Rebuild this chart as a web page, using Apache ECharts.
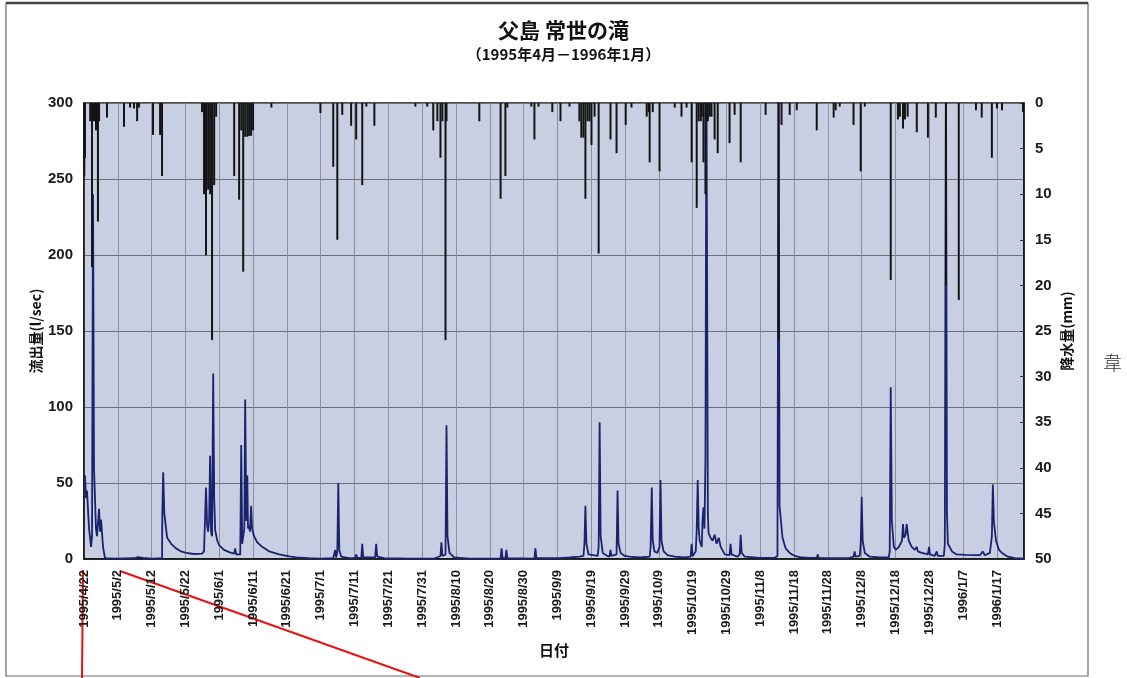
<!DOCTYPE html>
<html>
<head>
<meta charset="utf-8">
<script src="https://cdn.jsdelivr.net/npm/echarts@6/dist/echarts.min.js"></script>
<style>
  html, body { margin: 0; padding: 0; background: #fff; }
  #chart { width: 1127px; height: 678px; }
</style>
</head>
<body>
<div id="chart"></div>
<script>
// 父島 常世の滝 : runoff (l/sec) and rainfall (mm), 1995/4 - 1996/1
// Times are written 'M/D H' ; months 4-12 are 1995, months 1-3 are 1996.
const startDate = '1995/4/22';
const dayCount = 278;          // axis span in days from startDate
const tickDays = 10;           // date label every 10 days

const flowTitle = '流出量(l/sec)';
const rainTitle = '降水量(mm)';
const dateTitle = '日付';
const chartTitle = '父島 常世の滝';
const chartSubtitle = '（1995年4月－1996年1月）';

// runoff, l/sec
const flowPoints = [
  ['4/22 0',50],['4/22 7',55],['4/22 14',40],['4/22 21',45],['4/23 12',20],['4/24 2',8],['4/24 9',15],['4/24 16',240],['4/24 23',60],
  ['4/25 13',20],['4/25 20',15],['4/26 11',33],['4/26 18',18],['4/27 1',26],['4/27 15',8],['4/28 5',0.5],['5/1 0',0.3],['5/7 0',0.5],
  ['5/8 0',1.2],['5/9 12',0.8],['5/12 0',0.3],['5/15 2',0.5],['5/15 4',30],['5/15 10',57],['5/15 18',30],['5/16 14',14],['5/17 19',10],
  ['5/19 5',7],['5/20 17',5],['5/22 5',4],['5/24 14',3.3],['5/26 22',3.5],['5/27 12',5],['5/28 2',47],['5/28 10',22],['5/28 17',18],
  ['5/29 0',25],['5/29 7',68],['5/29 14',18],['5/29 21',15],['5/30 5',122],['5/30 12',40],['5/30 19',19],['5/31 10',12],['6/1 0',9],
  ['6/2 10',6],['6/3 22',4.5],['6/5 10',3.5],['6/5 17',7],['6/6 0',3],['6/7 5',3],['6/7 12',75],['6/7 19',10],['6/8 10',20],['6/8 16',105],
  ['6/9 0',25],['6/9 7',55],['6/9 12',20],['6/9 20',22],['6/10 2',18],['6/10 10',35],['6/10 17',20],['6/11 7',15],['6/12 5',11],['6/13 17',8],
  ['6/15 19',5],['6/18 17',3],['6/21 17',1.8],['6/23 19',1],['6/27 14',0.6],['7/1 5',0.3],['7/4 17',0.5],['7/5 7',6],['7/5 14',1],['7/5 22',5],
  ['7/6 5',50],['7/6 12',6],['7/7 2',1.5],['7/9 10',0.5],['7/11 5',0.8],['7/11 12',3],['7/11 19',0.8],['7/13 0',0.8],['7/13 7',10],['7/13 14',1],
  ['7/17 2',1],['7/17 10',10],['7/17 17',1.5],['7/19 19',0.5],['7/27 5',0.2],['8/3 14',0.3],['8/5 10',2],['8/5 17',11],['8/6 0',2],['8/6 22',3],
  ['8/7 5',88],['8/7 12',15],['8/8 2',4],['8/9 12',1],['8/14 0',0.3],['8/23 5',0.3],['8/23 12',7],['8/23 19',0.5],['8/24 15',0.5],['8/24 22',6],
  ['8/25 5',0.5],['9/2 5',0.3],['9/2 12',7],['9/2 19',0.5],['9/9 14',0.5],['9/12 14',1],['9/15 12',1.5],['9/16 17',2],['9/17 0',10],['9/17 7',35],
  ['9/17 14',10],['9/18 5',3],['9/20 22',2],['9/21 5',8],['9/21 12',90],['9/21 19',15],['9/22 10',4],['9/23 19',2],['9/24 10',1.5],['9/24 17',6],
  ['9/25 0',2],['9/26 12',3],['9/26 19',45],['9/27 2',10],['9/27 17',4],['9/28 22',2],['9/30 7',1.5],['10/3 7',1],['10/6 7',1.5],['10/6 14',8],
  ['10/6 22',47],['10/7 5',12],['10/7 17',5],['10/8 14',4],['10/9 5',8],['10/9 12',52],['10/9 19',12],['10/10 10',5],['10/11 14',2.5],['10/13 17',1.5],
  ['10/16 14',1],['10/18 10',1.5],['10/18 17',10],['10/19 0',2],['10/19 22',5],['10/20 5',19],['10/20 12',52],['10/20 19',20],['10/21 2',12],
  ['10/21 17',8],['10/21 22',25],['10/22 5',34],['10/22 12',20],['10/22 19',66],['10/23 2',320],['10/23 12',30],['10/23 17',17],['10/24 7',14],
  ['10/24 22',12],['10/25 12',16],['10/26 2',10],['10/26 17',14],['10/27 7',8],['10/28 12',3],['10/29 22',2.5],['10/30 5',10],['10/30 12',3],
  ['11/1 7',1.5],['11/1 22',3],['11/2 5',16],['11/2 12',4],['11/3 10',1.5],['11/7 19',0.8],['11/12 7',0.8],['11/13 2',2],['11/13 10',330],
  ['11/13 17',35],['11/14 14',14],['11/15 12',7],['11/16 17',4],['11/18 5',2],['11/19 17',1.2],['11/22 14',0.8],['11/24 17',0.8],['11/25 0',3],
  ['11/25 7',0.8],['11/28 12',0.5],['12/4 12',0.8],['12/5 14',1.5],['12/5 22',5],['12/6 5',1.5],['12/7 10',2],['12/7 17',10],['12/8 0',41],
  ['12/8 7',12],['12/8 22',4],['12/10 10',1.5],['12/13 7',1],['12/16 0',1],['12/16 7',5],['12/16 14',113],['12/16 22',25],['12/17 12',8],
  ['12/18 2',6],['12/19 0',8],['12/19 22',12],['12/20 5',23],['12/20 12',14],['12/21 0',16],['12/21 7',23],['12/21 22',12],['12/22 19',8],
  ['12/23 17',6],['12/24 7',8],['12/24 14',5],['12/25 19',4],['12/27 14',3],['12/27 22',8],['12/28 5',3],['12/29 14',2],['12/30 5',5],
  ['12/30 12',2],['1/1 7',2],['1/1 14',10],['1/1 22',330],['1/2 5',30],['1/2 12',10],['1/3 17',5],['1/5 2',3],['1/7 19',2.7],['1/10 12',2.5],
  ['1/12 0',2.5],['1/12 19',5],['1/13 10',2.5],['1/14 22',4],['1/15 12',15],['1/15 19',49],['1/16 2',25],['1/16 17',12],['1/17 14',6],
  ['1/18 12',4],['1/20 5',1.5],['1/22 7',0.5],['1/25 0',0.3]
];

// rainfall, mm
const rainPoints = [
  ['4/22 2',8],['4/22 7',6],['4/23 20',2],['4/24 9',18],['4/24 23',2],['4/25 13',3],['4/26 3',13],['4/26 11',2],['4/28 19',1.6],['5/3 20',2.6],
  ['5/5 15',0.5],['5/6 19',0.6],['5/7 17',2],['5/8 7',0.5],['5/12 10',3.5],['5/14 12',3.5],['5/15 2',8],['5/26 22',1],['5/27 12',10],['5/28 2',16.7],
  ['5/28 17',9.5],['5/29 7',10],['5/29 21',26],['5/30 12',9],['5/31 2',1.5],['6/5 10',8],['6/6 21',10.6],['6/7 12',3],['6/8 2',18.5],['6/8 16',3.7],
  ['6/9 7',3.7],['6/9 20',3.6],['6/10 10',3.6],['6/11 0',3],['6/16 10',0.5],['6/30 22',1.1],['7/4 17',7],['7/5 22',15],['7/7 9',1.3],['7/10 0',2.5],
  ['7/11 12',4],['7/13 7',9],['7/14 12',0.4],['7/16 21',2.5],['7/29 0',0.4],['8/1 12',0.4],['8/3 7',3],['8/4 12',2],['8/5 10',6],['8/6 0',2],
  ['8/6 22',26],['8/7 5',2],['8/16 22',2],['8/23 5',10.5],['8/24 15',8],['8/25 5',0.5],['9/1 7',0.4],['9/2 5',4],['9/3 10',0.4],['9/7 12',1],
  ['9/9 22',2],['9/12 14',0.4],['9/15 12',2],['9/16 2',3.8],['9/16 17',3.8],['9/17 7',10.5],['9/17 22',2],['9/18 12',2],['9/19 2',4.6],['9/20 0',1.5],
  ['9/21 5',16.5],['9/24 17',4],['9/26 12',5.5],['9/29 5',2.4],['9/30 22',0.5],['10/5 10',1.5],['10/6 0',1],['10/6 7',6.5],['10/7 5',1],['10/9 5',7.5],
  ['10/13 17',0.5],['10/15 17',1.5],['10/17 5',0.5],['10/18 17',6.5],['10/20 5',11.5],['10/20 19',2],['10/21 10',2],['10/21 17',1.5],['10/22 5',6.5],
  ['10/22 19',10],['10/23 12',2],['10/24 2',1.5],['10/24 14',1.5],['10/25 12',4],['10/26 10',5.5],['10/29 22',4.4],['10/31 10',1.3],['11/2 5',6.5],
  ['11/9 14',1.3],['11/13 10',26],['11/14 7',2.4],['11/16 17',1.3],['11/18 19',0.8],['11/24 17',3],['11/29 17',1.6],['11/30 7',0.8],['12/1 12',0.4],
  ['12/5 14',2.4],['12/7 17',7.5],['12/8 22',0.4],['12/16 14',19.4],['12/18 17',1.8],['12/19 7',1.5],['12/20 5',2.8],['12/20 19',1.8],['12/21 14',1.5],
  ['12/24 7',3.2],['12/27 14',3.8],['12/29 22',1.6],['1/1 22',20],['1/5 17',21.6],['1/10 19',0.8],['1/12 12',1.6],['1/15 12',6],['1/17 0',0.6],
  ['1/18 12',0.8],['1/24 17',1]
];

const DAY = 86400000;
const startParts = startDate.split('/').map(Number);
const startMs = Date.UTC(startParts[0], startParts[1] - 1, startParts[2]);

// 'M/D H' -> days elapsed since startDate
function toDay(s) {
  const [md, h] = s.split(' ');
  const [m, d] = md.split('/').map(Number);
  const y = m >= 4 ? 1995 : 1996;
  return (Date.UTC(y, m - 1, d, Number(h || 0)) - startMs) / DAY;
}
function dayLabel(v) {
  if (Math.abs(v % tickDays) > 1e-6) return '';
  const d = new Date(startMs + v * DAY);
  return d.getUTCFullYear() + '/' + (d.getUTCMonth() + 1) + '/' + d.getUTCDate();
}

const flowData = flowPoints.map(p => [toDay(p[0]), p[1]]);
const rainData = rainPoints.map(p => [toDay(p[0]), p[1]]);

const labelFont = { fontFamily: 'Liberation Sans, Arial, sans-serif', fontWeight: 'bold', color: '#1a1a1a' };
const cjkFont = 'Noto Sans CJK JP, sans-serif';

const chart = echarts.init(document.getElementById('chart'), null, { renderer: 'canvas' });
chart.setOption({
  backgroundColor: '#ffffff',
  animation: false,
  title: [
    { text: chartTitle, left: 'center', top: 15,
      textStyle: { fontFamily: cjkFont, fontSize: 21, fontWeight: 'bold', color: '#111' } },
    { text: chartSubtitle, left: 'center', top: 42,
      textStyle: { fontFamily: cjkFont, fontSize: 15, fontWeight: 'bold', color: '#111' } }
  ],
  grid: {
    left: 84, right: 103, top: 103, bottom: 119,
    show: true, backgroundColor: '#c8cfe2', borderColor: '#111', borderWidth: 1.5
  },
  xAxis: {
    type: 'value', min: 0, max: dayCount, interval: tickDays,
    name: dateTitle, nameLocation: 'middle', nameGap: 82,
    nameTextStyle: { fontFamily: cjkFont, fontSize: 15, fontWeight: 'bold', color: '#111' },
    axisLine: { lineStyle: { color: '#111', width: 1.5 } },
    axisTick: { show: false },
    axisLabel: Object.assign({ rotate: 90, fontSize: 13, margin: 11, formatter: dayLabel, showMaxLabel: false }, labelFont),
    splitLine: { show: true, lineStyle: { color: '#8a8f9c', width: 1 } }
  },
  yAxis: [
    {
      type: 'value', min: 0, max: 300, interval: 50,
      name: flowTitle, nameLocation: 'middle', nameGap: 41, nameRotate: 90, nameMoveOverlap: false,
      nameTextStyle: { fontFamily: cjkFont, fontSize: 14, fontWeight: 'bold', color: '#111' },
      axisLine: { show: true, lineStyle: { color: '#111', width: 1.5 } },
      axisTick: { show: false },
      axisLabel: Object.assign({ fontSize: 15, margin: 11 }, labelFont),
      splitLine: { show: true, lineStyle: { color: '#6c707b', width: 1 } }
    },
    {
      type: 'value', min: 0, max: 50, interval: 5, inverse: true, position: 'right',
      name: rainTitle, nameLocation: 'middle', nameGap: 36, nameRotate: 90, nameMoveOverlap: false,
      nameTextStyle: { fontFamily: cjkFont, fontSize: 14, fontWeight: 'bold', color: '#111' },
      axisLine: { show: true, lineStyle: { color: '#111', width: 1.5 } },
      axisTick: { show: true, inside: true, length: 4, lineStyle: { color: '#333' } },
      axisLabel: Object.assign({ fontSize: 15, margin: 11 }, labelFont),
      splitLine: { show: false }
    }
  ],
  series: [
    {
      name: flowTitle, type: 'line', yAxisIndex: 0, data: flowData,
      showSymbol: false, symbol: 'none', clip: true, z: 2,
      lineStyle: { color: '#1b226e', width: 1.8 }
    },
    {
      name: rainTitle, type: 'bar', yAxisIndex: 1, data: rainData,
      barWidth: 2, z: 3,
      itemStyle: { color: '#141414' }
    }
  ],
  graphic: [
    { type: 'rect', silent: true, shape: { x: 6, y: 3, width: 1082, height: 673 },
      style: { fill: null, stroke: '#6a6a6a', lineWidth: 1.2 } },
    { type: 'line', silent: true, shape: { x1: 6, y1: 3, x2: 1088, y2: 3 },
      style: { stroke: '#444', lineWidth: 2.5 } },
    { type: 'line', silent: true, shape: { x1: 83, y1: 570, x2: 82, y2: 678 },
      style: { stroke: '#e81010', lineWidth: 2 } },
    { type: 'line', silent: true, shape: { x1: 120, y1: 571, x2: 420, y2: 678 },
      style: { stroke: '#e81010', lineWidth: 2 } },
    { type: 'text', silent: true, x: 1103, y: 353,
      style: { text: '韋', font: '300 19px "Noto Sans CJK JP", sans-serif', fill: '#333' } }
  ]
});
</script>
</body>
</html>
